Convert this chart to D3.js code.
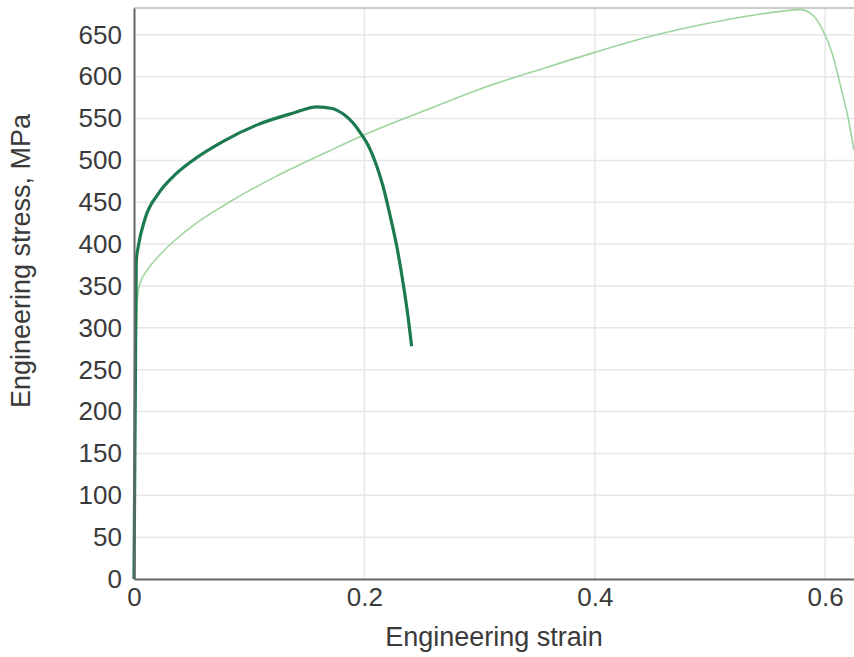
<!DOCTYPE html>
<html>
<head>
<meta charset="utf-8">
<script src="https://cdn.jsdelivr.net/npm/d3@7"></script>
<style>
  html, body { margin: 0; padding: 0; background: #fff; }
  svg text { font-family: "Liberation Sans", Arial, sans-serif; fill: #3a3a3a; }
</style>
</head>
<body>
<div id="chart"></div>
<script>
// Sample A (dark green, short ductility)
const darkStrain = [0, 0.0015, 0.002, 0.0037, 0.0095, 0.021, 0.035, 0.050, 0.079, 0.108, 0.137, 0.159, 0.172, 0.182, 0.190, 0.197, 0.204, 0.210, 0.216, 0.222, 0.228, 0.234, 0.238, 0.241];
const darkStress = [0, 300, 380, 397, 430, 460, 482, 499, 524, 543, 556, 564, 562, 555, 545, 532, 516, 496, 470, 436, 398, 350, 312, 278];

// Sample B (light green, long ductility)
const lightStrain = [0, 0.0015, 0.003, 0.005, 0.012, 0.021, 0.035, 0.050, 0.079, 0.122, 0.166, 0.199, 0.257, 0.300, 0.358, 0.400, 0.445, 0.503, 0.540, 0.561, 0.578, 0.588, 0.597, 0.606, 0.614, 0.620, 0.625];
const lightStress = [0, 250, 335, 352, 370, 385, 404, 421, 447, 480, 509, 530, 562, 585, 611, 629, 647, 665, 674, 678, 680, 675, 658, 628, 585, 550, 512];

const yTicks = d3.range(0, 651, 50);
const xTicks = [0, 0.2, 0.4, 0.6];

const W = 854, H = 657;
const margin = { top: 8, right: 0, bottom: 78, left: 134 };
const width = W - margin.left - margin.right;
const height = H - margin.top - margin.bottom;

const x = d3.scaleLinear().domain([0, 0.625]).range([0, width]);
const y = d3.scaleLinear().domain([0, 682]).range([height, 0]);

const svg = d3.select("#chart").append("svg")
  .attr("width", W)
  .attr("height", H);

const g = svg.append("g")
  .attr("transform", `translate(${margin.left},${margin.top})`);

// grid
g.append("g")
  .selectAll("line")
  .data(yTicks.filter(d => d > 0))
  .join("line")
  .attr("x1", 0).attr("x2", width)
  .attr("y1", d => y(d)).attr("y2", d => y(d))
  .attr("stroke", "#e6e6e6")
  .attr("stroke-width", 1.5);

g.append("g")
  .selectAll("line")
  .data(xTicks.filter(d => d > 0))
  .join("line")
  .attr("x1", d => x(d)).attr("x2", d => x(d))
  .attr("y1", 0).attr("y2", height)
  .attr("stroke", "#e6e6e6")
  .attr("stroke-width", 1.5);

// top border
g.append("line")
  .attr("x1", 0).attr("x2", width)
  .attr("y1", 0).attr("y2", 0)
  .attr("stroke", "#bbb")
  .attr("stroke-width", 1.5);

// curves
const line = d3.line()
  .x(d => x(d[0]))
  .y(d => y(d[1]))
  .curve(d3.curveMonotoneX);

g.append("path")
  .datum(lightStrain.map((s, i) => [s, lightStress[i]]))
  .attr("fill", "none")
  .attr("stroke", "#9fd49f")
  .attr("stroke-width", 1.6)
  .attr("d", line);

g.append("path")
  .datum(darkStrain.map((s, i) => [s, darkStress[i]]))
  .attr("fill", "none")
  .attr("stroke", "#1c7a50")
  .attr("stroke-width", 3.2)
  .attr("d", line);

// axes
const yAxis = g.append("g")
  .call(d3.axisLeft(y).tickValues(yTicks).tickSize(0).tickPadding(12));
yAxis.select(".domain").attr("stroke", "#666").attr("stroke-width", 2);
yAxis.selectAll("text").style("font-size", "26px").attr("fill", "#3a3a3a");

const xAxis = g.append("g")
  .attr("transform", `translate(0,${height})`)
  .call(d3.axisBottom(x).tickValues(xTicks).tickFormat(d3.format("")).tickSize(0).tickPadding(9));
xAxis.select(".domain").attr("stroke", "#666").attr("stroke-width", 2);
xAxis.selectAll("text").style("font-size", "26px").attr("fill", "#3a3a3a");

// axis titles
svg.append("text")
  .attr("x", 494)
  .attr("y", 646)
  .attr("text-anchor", "middle")
  .style("font-size", "27px")
  .text("Engineering strain");

svg.append("text")
  .attr("transform", `translate(30,261) rotate(-90)`)
  .attr("text-anchor", "middle")
  .style("font-size", "27px")
  .text("Engineering stress, MPa");
</script>
</body>
</html>
